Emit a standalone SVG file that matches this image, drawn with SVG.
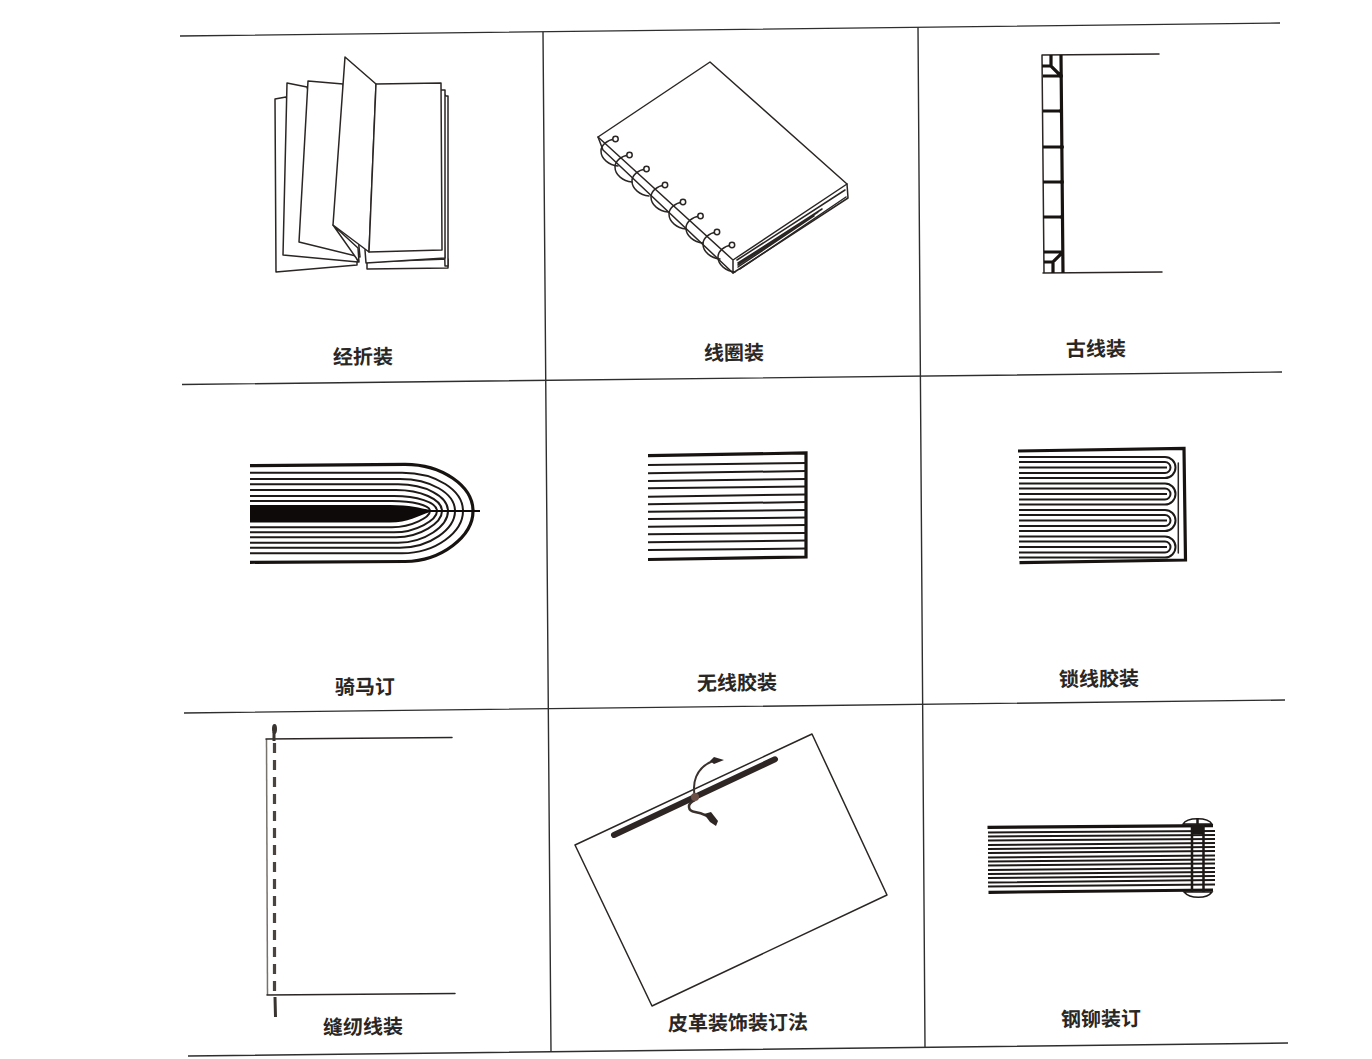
<svg xmlns="http://www.w3.org/2000/svg" width="1372" height="1059" viewBox="0 0 1372 1059">
<style>
.l{fill:none;stroke:#2a2624;stroke-width:1.5;stroke-linejoin:round;stroke-linecap:round}
.w{fill:#fff;stroke:#2a2624;stroke-width:1.5;stroke-linejoin:round}
.g{fill:none;stroke:#2e2e2e;stroke-width:1.4}
.m{fill:none;stroke:#1d1917;stroke-width:2}
.h{fill:none;stroke:#171311;stroke-width:3.2}
.t{font-family:"Noto Sans CJK SC","Liberation Sans",sans-serif;font-size:20px;font-weight:700;fill:#2a2624;text-anchor:middle}
</style>
<defs>
<path id="ring" d="M0 0C-8 1-14 6-14 12C-14 20-6 26 3 27" class="l"/>
<g id="sig" class="m"><path d="M0-10.500H146A10.500 10.500 0 0 1 146 10.500H0"/><path d="M0-5.500H146A5.500 5.500 0 0 1 146 5.500H0"/><path d="M0 0H148"/></g>
</defs>
<rect width="1372" height="1059" fill="#fff"/>
<g id="grid" class="g">
<path d="M180 36L1280 23M182 384.500L1282 372M184 713L1285 700M188 1056L1288 1043"/>
<path d="M543 32L551 1052M918 27L925 1047"/>
</g>
<g id="jingzhe">
<path class="w" d="M275 99L286 97L357 262L357 265L276 272Z"/>
<path class="w" d="M287 83L307 87L358 262L283 255Z"/>
<path class="w" d="M308 81L343 84L360 257L299 242Z"/>
<path class="w" d="M333 225L358 248L359 262Z"/>
<path class="w" d="M367 262L448 259L448 268L367 269Z"/>
<path class="w" d="M440 90L446 96L448 96L448 266L445 266Z"/>
<path class="w" d="M365 250L441 90L445 90L445 258L366 263Z"/>
<path class="w" d="M345 57L376 84L369 252L333 225Z"/>
<path class="w" d="M376 84L441 83L442 250L369 252Z"/>
</g>
<g id="xianquan">
<path class="w" d="M710 62L847 184L848 198L733 273L603 150L598 137Z"/>
<path class="l" d="M598 137L733 260L847 184M733 260L733 273"/>
<path class="l" stroke-width="1.300" d="M737 260L845 190M738 263L822 209M738 265L818 212M738 267L814 216M740 269L846 197"/>
<use href="#ring" x="615" y="139"/><use href="#ring" x="629" y="155"/><use href="#ring" x="646" y="169"/><use href="#ring" x="665" y="185"/><use href="#ring" x="683" y="202"/><use href="#ring" x="700" y="216"/><use href="#ring" x="717" y="232"/><use href="#ring" x="732" y="245"/>
<g fill="#fff" stroke="#2a2624" stroke-width="1.500"><circle cx="615.500" cy="139" r="2.700"/><circle cx="629.500" cy="155" r="2.700"/><circle cx="646.500" cy="169" r="2.700"/><circle cx="665" cy="185" r="2.700"/><circle cx="683" cy="202" r="2.700"/><circle cx="700.500" cy="216" r="2.700"/><circle cx="717" cy="232" r="2.700"/><circle cx="732" cy="245" r="2.700"/></g>
</g>
<g id="guxian">
<path class="l" d="M1042 55L1159 54M1043 273L1162 272M1042 55L1044 273"/>
<path class="h" stroke-width="2.200" fill="none" d="M1061 55L1063 273M1043 76H1061M1043 111H1061M1043 147H1062M1043 182H1062M1043 217H1062M1044 252H1063M1042 66H1051L1061 76M1051 55V66M1044 262H1053L1063 252M1053 262V273"/>
<g fill="#171311"><circle cx="1061" cy="76" r="2"/><circle cx="1061" cy="111" r="2"/><circle cx="1062" cy="147" r="2"/><circle cx="1062" cy="182" r="2"/><circle cx="1062" cy="217" r="2"/></g>
</g>
<g id="qima">
<path class="h" d="M250 465.700L405 464.300C442 464.300 473 486 473 511C473 536 442 561 405 561.500L250 562.300"/>
<path class="m" d="M250 472.700H402C436 472.700 463 490 463 511C463 532 436 553.300 402 553.300H250"/>
<path class="m" d="M250 479H400C430 479 455 493 455 511C455 529 430 547.700 400 547.700H250"/>
<path class="m" d="M250 484.300H398C425 484.300 448 496 448 511C448 526 425 542.700 398 542.700H250"/>
<path class="m" d="M250 490H396C420 490 442 499 442 511C442 523 420 537.300 396 537.300H250"/>
<path class="m" d="M250 496H394C416 496 437 502 437 511C437 520 416 532.300 394 532.300H250"/>
<path class="m" d="M250 501H392C412 501 430 505 430 511C430 517 412 527.300 392 527.300H250"/>
<path fill="#0d0a09" d="M250 505L390 505C410 505 420 508 430 510L480 510V512L430 512C418 516 408 522.500 390 522.500L250 522.500Z"/>
</g>
<g id="wuxian">
<path class="h" d="M648 455.700L806 453V557L648 559.500"/>
<path class="m" stroke-width="2.200" d="M648 465L806 463M648 473.300L806 471M648 481L806 479M648 488.300L806 486.500M648 496.700L806 494.500M648 504.300L806 502M648 511.700L806 510M648 519L806 517.500M648 526.700L806 525M648 534.300L806 533M648 542.300L806 540.500M648 550L806 548.500"/>
</g>
<g id="suoxian">
<path class="h" d="M1018 451L1184 448.300L1185.500 560L1019.500 562.700"/>
<path class="l" d="M1178.300 463V553"/>
<use href="#sig" x="1019" y="467.500"/><use href="#sig" x="1019" y="494"/><use href="#sig" x="1019" y="520.500"/><use href="#sig" x="1019" y="547"/>
</g>
<g id="fengren">
<path fill="none" stroke="#77726c" stroke-width="1.500" d="M266.500 739L267.500 995"/>
<path class="l" d="M266 739L452 737.500M267 995L455 993.500"/>
<path fill="none" stroke="#4a4340" stroke-width="3.200" stroke-dasharray="10 7" d="M274.500 743V992"/>
<path fill="none" stroke="#3a3431" stroke-width="3" d="M274 741V732M275 997L275.500 1017"/>
<ellipse cx="274.500" cy="729" rx="2.500" ry="5" fill="#3a3431"/>
</g>
<g id="pige">
<path class="l" d="M812 734L887 895L652 1006L575 845Z"/>
<path fill="none" stroke="#2e2624" stroke-width="6" stroke-linecap="round" d="M614 835L775 759.300"/>
<path fill="none" stroke="#3a302c" stroke-width="2" d="M695 797C692 784 695 768 713 761"/>
<path fill="#2e2624" d="M710 761L714 757L724 760L714 764Z"/>
<path fill="none" stroke="#3a302c" stroke-width="2.500" d="M695 800C686 804 688 811 695 812C703 813 711 818 716 823"/>
<path fill="#2e2624" d="M704 814L711 812L718 821L716 826L710 822Z"/>
<circle cx="695" cy="797" r="4" fill="#6d5149"/>
</g>
<g id="maoding">
<path class="m" stroke-width="2" d="M988 832.500L1215 831M988 836.500L1215 835M988 840.500L1215 839M988 845L1215 843M988 849L1215 847M988 853L1215 851M988 857.500L1215 855.500M988 861.500L1215 859.500M988 865.500L1215 863.500M988 870L1215 868M988 874L1215 872M988 878L1215 876M988 882.500L1215 880M988 886.500L1215 884.500"/>
<path class="h" stroke-width="4" d="M987.500 827.300L1213 825.700M988.500 892.300L1213 890"/>
<path fill="#fff" stroke="#1d1917" stroke-width="1.500" d="M1183 824C1187 817 1208 817 1212 824Z"/>
<path fill="#fff" stroke="#1d1917" stroke-width="1.500" d="M1184 892C1190 899 1207 899 1212 892Z"/>
<path fill="#1d1917" d="M1192 825H1204V834H1192Z"/>
<path fill="none" stroke="#1d1917" stroke-width="2.500" d="M1192 826V892M1203.500 826V892M1197.500 818V824"/>
</g>
<g id="labels">
<text class="t" x="363" y="364" transform="rotate(-.7 363 357)">经折装</text>
<text class="t" x="734" y="360" transform="rotate(-.7 734 353)">线圈装</text>
<text class="t" x="1096" y="356" transform="rotate(-.7 1096 349)">古线装</text>
<text class="t" x="365" y="694" transform="rotate(-.7 365 687)">骑马订</text>
<text class="t" x="737" y="690" transform="rotate(-.7 737 683)">无线胶装</text>
<text class="t" x="1099" y="686" transform="rotate(-.7 1099 679)">锁线胶装</text>
<text class="t" x="363" y="1034" transform="rotate(-.7 363 1027)">缝纫线装</text>
<text class="t" x="738" y="1030" transform="rotate(-.7 738 1023)">皮革装饰装订法</text>
<text class="t" x="1101" y="1026" transform="rotate(-.7 1101 1019)">钢铆装订</text>
</g>
</svg>
